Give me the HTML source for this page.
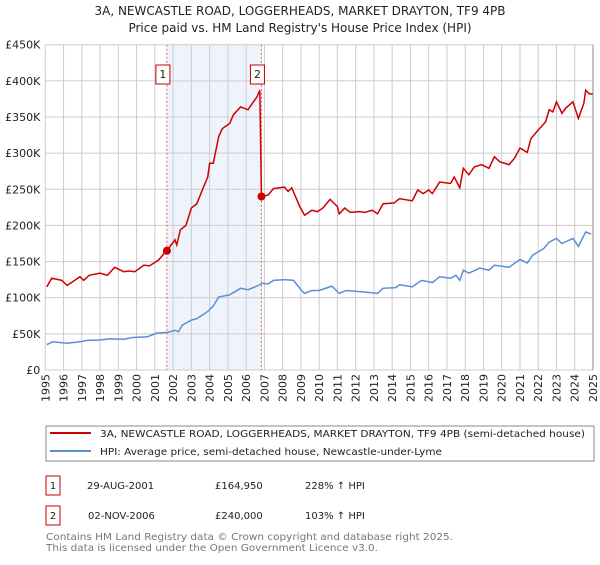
<!DOCTYPE html>
<html><head><meta charset="utf-8"><style>
body{margin:0;background:#fff;font-family:"Liberation Sans","DejaVu Sans",sans-serif;}
svg text{font-family:"DejaVu Sans","Liberation Sans",sans-serif;}
</style></head><body>
<svg id="c" width="600" height="560" xmlns="http://www.w3.org/2000/svg">
<text x="300" y="15" text-anchor="middle" font-size="12" fill="#222">3A, NEWCASTLE ROAD, LOGGERHEADS, MARKET DRAYTON, TF9 4PB</text>
<text x="300" y="32" text-anchor="middle" font-size="12" fill="#222">Price paid vs. HM Land Registry's House Price Index (HPI)</text>
<g id="grid"></g>
<g id="marks"></g>
<g id="axes"></g>
<rect x="46" y="426" width="548" height="35" fill="#fff" stroke="#888"/>
<line x1="50" y1="433" x2="91" y2="433" stroke="#cc0000" stroke-width="2"/>
<text x="100" y="437" font-size="10" textLength="485" lengthAdjust="spacingAndGlyphs" fill="#222">3A, NEWCASTLE ROAD, LOGGERHEADS, MARKET DRAYTON, TF9 4PB (semi-detached house)</text>
<line x1="50" y1="451" x2="91" y2="451" stroke="#5b8fd4" stroke-width="2"/>
<text x="100" y="455" font-size="10" textLength="342" lengthAdjust="spacingAndGlyphs" fill="#222">HPI: Average price, semi-detached house, Newcastle-under-Lyme</text>
<g>
<rect x="46" y="476" width="14" height="19" fill="#fff" stroke="#cc0000"/>
<text x="53" y="489" text-anchor="middle" font-size="10" fill="#222">1</text>
<text x="87" y="489" font-size="10" fill="#222">29-AUG-2001</text>
<text x="215" y="489" font-size="10" fill="#222">£164,950</text>
<text x="305" y="489" font-size="10" fill="#222">228% ↑ HPI</text>
</g>
<g>
<rect x="46" y="506" width="14" height="19" fill="#fff" stroke="#cc0000"/>
<text x="53" y="519" text-anchor="middle" font-size="10" fill="#222">2</text>
<text x="88" y="519" font-size="10" fill="#222">02-NOV-2006</text>
<text x="215" y="519" font-size="10" fill="#222">£240,000</text>
<text x="305" y="519" font-size="10" fill="#222">103% ↑ HPI</text>
</g>
<text x="46" y="540" font-size="10" textLength="407" lengthAdjust="spacingAndGlyphs" fill="#777">Contains HM Land Registry data © Crown copyright and database right 2025.</text>
<text x="46" y="551" font-size="10" textLength="332" lengthAdjust="spacingAndGlyphs" fill="#777">This data is licensed under the Open Government Licence v3.0.</text>
</svg>
<script>
const yTicks=[0,50000,100000,150000,200000,250000,300000,350000,400000,450000];
const yTickLabels=["£0","£50K","£100K","£150K","£200K","£250K","£300K","£350K","£400K","£450K"];
const years=[1995,1996,1997,1998,1999,2000,2001,2002,2003,2004,2005,2006,2007,2008,2009,2010,2011,2012,2013,2014,2015,2016,2017,2018,2019,2020,2021,2022,2023,2024,2025];
const saleDates=[2001.66,2006.84];
const salePrices=[164950,240000];
const saleLabels=["1","2"];
const redX=[1995.08,1995.35,1995.9,1996.2,1996.9,1997.1,1997.4,1998.0,1998.4,1998.8,1999.3,1999.6,1999.9,2000.4,2000.7,2001.2,2001.5,2001.66,2002.1,2002.2,2002.4,2002.7,2003.0,2003.3,2003.6,2003.9,2004.0,2004.2,2004.5,2004.7,2005.1,2005.3,2005.7,2006.1,2006.4,2006.6,2006.75,2006.84,2007.2,2007.5,2008.1,2008.3,2008.5,2008.94,2009.2,2009.6,2009.9,2010.2,2010.6,2011.0,2011.1,2011.4,2011.7,2012.2,2012.5,2012.9,2013.2,2013.5,2014.1,2014.4,2015.1,2015.4,2015.7,2016.0,2016.2,2016.6,2017.2,2017.4,2017.7,2017.9,2018.2,2018.5,2018.9,2019.3,2019.6,2019.9,2020.4,2020.7,2021.0,2021.4,2021.6,2022.0,2022.4,2022.6,2022.8,2023.0,2023.3,2023.5,2023.9,2024.2,2024.5,2024.6,2024.8,2025.0];
const redY=[115,127,124,117,129,124,131,134,131,142,136,137,136,145,144,152,161,165,180,173,194,200,224,230,249,267,286,286,323,334,341,353,364,360,371,378,387,240,242,251,253,247,252,226,214,221,219,224,236,226,216,224,218,219,218,221,216,230,231,237,234,249,244,249,244,260,258,267,252,279,270,281,284,279,295,288,284,293,307,301,320,332,343,360,357,371,355,362,371,348,369,387,382,382];
const hpiX=[1995.08,1995.4,1996.2,1996.9,1997.3,1998.0,1998.5,1999.3,1999.8,2000.6,2001.1,2001.7,2002.1,2002.3,2002.5,2003.0,2003.3,2003.9,2004.2,2004.5,2005.1,2005.7,2006.1,2006.5,2006.9,2007.2,2007.5,2008.1,2008.6,2009.0,2009.2,2009.6,2010.0,2010.7,2011.1,2011.5,2012.4,2013.2,2013.5,2014.2,2014.4,2015.1,2015.6,2016.2,2016.6,2017.2,2017.5,2017.7,2017.9,2018.2,2018.8,2019.3,2019.6,2020.4,2021.0,2021.4,2021.7,2022.3,2022.6,2023.0,2023.3,2023.9,2024.2,2024.6,2024.9];
const hpiY=[35,39,37,39,41,41.5,43,42.5,45,46,51,52,55,53,62,69,71,81,88.5,101,104,113,111,115,120,119,124,125,124,111,106,110,110,116,106,110,108,106,113,114,118,115,124,121,129,127,131,124,138,134,141,138,145,142,153,148,159,168,177,182,175,182,171,191,188];
const NS="http://www.w3.org/2000/svg";
const L=45.3,R=593,T=44.7,B=370;
const xs=y=>L+(y-1995)/30*(R-L);
const ys=v=>B-v/450000*(B-T);
function mk(t,a,p){const e=document.createElementNS(NS,t);for(const k in a)e.setAttribute(k,a[k]);(p||document.getElementById('marks')).appendChild(e);return e;}
const grid=document.getElementById('grid'),axes=document.getElementById('axes'),marks=document.getElementById('marks');
const band=mk('rect',{x:xs(saleDates[0]),y:T,width:xs(saleDates[1])-xs(saleDates[0]),height:B-T,fill:'#eef3fc'},grid);


years.forEach(y=>{const l=mk('line',{x1:xs(y),x2:xs(y),y1:T,y2:B,stroke:'#cccccc'},grid);


const t=mk('text',{x:0,y:0,'font-size':11,fill:'#222','text-anchor':'end',transform:`translate(${xs(y)+4},374) rotate(-90)`},axes);t.textContent=y;

});
yTicks.forEach((v,i)=>{const l=mk('line',{x1:L,x2:R,y1:ys(v),y2:ys(v),stroke:'#cccccc'},grid);


const t=mk('text',{x:L-5,y:ys(v)+4,'font-size':11,fill:'#222','text-anchor':'end'},axes);t.textContent=yTickLabels[i];

});
saleDates.forEach((d,i)=>{const l=mk('line',{x1:xs(d),x2:xs(d),y1:T,y2:B,stroke:'#f06060','stroke-dasharray':'2,2'});

});
const hp=mk('polyline',{points:hpiX.map((x,i)=>xs(x)+','+ys(hpiY[i]*1000)).join(' '),fill:'none',stroke:'#5b8fd4','stroke-width':1.5});


const rp=mk('polyline',{points:redX.map((x,i)=>xs(x)+','+ys(redY[i]*1000)).join(' '),fill:'none',stroke:'#cc0000','stroke-width':1.5});


saleDates.forEach((d,i)=>{const c=mk('circle',{cx:xs(d),cy:ys(salePrices[i]),r:4,fill:'#cc0000'});


const g=mk('g',{});


mk('rect',{x:xs(d)-11,y:65,width:14,height:19,fill:'#fff',stroke:'#cc0000'},g);
const t=mk('text',{x:xs(d)-4,y:78,'font-size':11,fill:'#222','text-anchor':'middle'},g);t.textContent=saleLabels[i];});
const ax=mk('line',{x1:R,x2:R,y1:T,y2:B,stroke:'#888'},axes);


</script>
</body></html>
